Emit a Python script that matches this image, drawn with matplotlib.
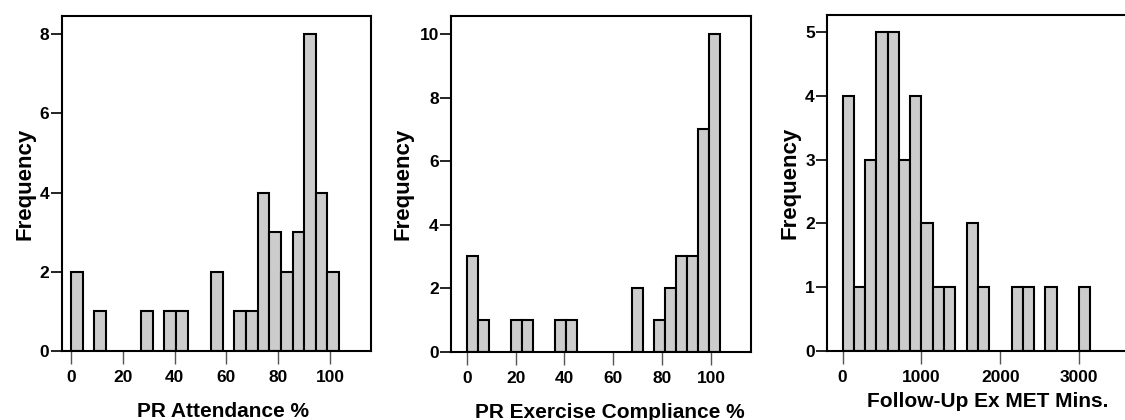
import matplotlib
matplotlib.use("Agg")
import matplotlib.pyplot as plt
import numpy as np

plt.rcParams['font.family'] = ['Liberation Sans', 'DejaVu Sans']

# Panel 1: PR Attendance % (bin width 4.5, starting at 0)
att_bin_left = [0, 9, 27, 36, 40.5, 54, 63, 67.5, 72, 76.5, 81, 85.5, 90, 94.5, 99]
att_counts = [2, 1, 1, 1, 1, 2, 1, 1, 4, 3, 2, 3, 8, 4, 2]
att_width = 4.5
att_xticks = [0, 20, 40, 60, 80, 100]
att_yticks = [0, 2, 4, 6, 8]

# Panel 2: PR Exercise Compliance %
exc_bin_left = [0, 4.5, 18, 22.5, 36, 40.5, 67.5, 76.5, 81, 85.5, 90, 94.5, 99]
exc_counts = [3, 1, 1, 1, 1, 1, 2, 1, 2, 3, 3, 7, 10]
exc_width = 4.5
exc_xticks = [0, 20, 40, 60, 80, 100]
exc_yticks = [0, 2, 4, 6, 8, 10]

# Panel 3: Follow-Up Ex MET Mins. (bin width 1000/7)
met_bin_index = [0, 1, 2, 3, 4, 5, 6, 7, 8, 9, 11, 12, 15, 16, 18, 21]
met_counts = [4, 1, 3, 5, 5, 3, 4, 2, 1, 1, 2, 1, 1, 1, 1, 1]
met_width = 1000 / 7
met_xticks = [0, 1000, 2000, 3000]
met_yticks = [0, 1, 2, 3, 4, 5]

labels = ["PR Attendance %", "PR Exercise Compliance %", "Follow-Up Ex MET Mins."]

W, H = 1125, 420
fig = plt.figure(figsize=(W / 100, H / 100), dpi=100)

def rect(l, r, t, b):
    return [l / W, (H - b) / H, (r - l) / W, (b - t) / H]

ax1 = fig.add_axes(rect(62, 371, 16, 351))
ax2 = fig.add_axes(rect(451.3, 751, 16, 351.7))
ax3 = fig.add_axes(rect(827.3, 1128, 15, 350.7))

fill = '#cccccc'
lw = 1.5

def draw(ax, lefts, counts, width, xticks, yticks, xlim, ylim, xlabel,
         labelpad, ylabelpad, label_dx_px, ax_w_px):
    ax.bar(lefts, counts, width=width, align='edge', color=fill,
           edgecolor='black', linewidth=lw, zorder=2)
    ax.set_xlim(*xlim)
    ax.set_ylim(*ylim)
    ax.set_xticks(xticks)
    ax.set_yticks(yticks)
    ax.set_xticklabels([str(t) for t in xticks], fontweight='bold', fontsize=12.5)
    ax.set_yticklabels([str(t) for t in yticks], fontweight='bold', fontsize=12.5)
    ax.tick_params(axis='x', length=9, width=1, color='#555555', pad=5)
    ax.tick_params(axis='y', length=8, width=1.2, color='black', pad=1)
    for s in ax.spines.values():
        s.set_linewidth(lw)
        s.set_color('black')
    ax.set_xlabel(xlabel, fontweight='bold', fontsize=15, labelpad=labelpad)
    ax.xaxis.label.set_x(0.5 + label_dx_px / ax_w_px)
    ax.set_ylabel("Frequency", fontweight='bold', fontsize=16, labelpad=ylabelpad)

draw(ax1, att_bin_left, att_counts, att_width, att_xticks, att_yticks,
     (-3.5, 115.8), (0, 8.46), labels[0], 12, 3, 7, 309)
draw(ax2, exc_bin_left, exc_counts, exc_width, exc_xticks, exc_yticks,
     (-6.3, 116.3), (0, 10.57), labels[1], 12, 4, 9, 300)
met_lefts = [i * met_width for i in met_bin_index]
draw(ax3, met_lefts, met_counts, met_width, met_xticks, met_yticks,
     (-194, 3581 + 38), (0, 5.27), labels[2], 5, 3, 10, 301)

fig.savefig("out.png", dpi=100)
